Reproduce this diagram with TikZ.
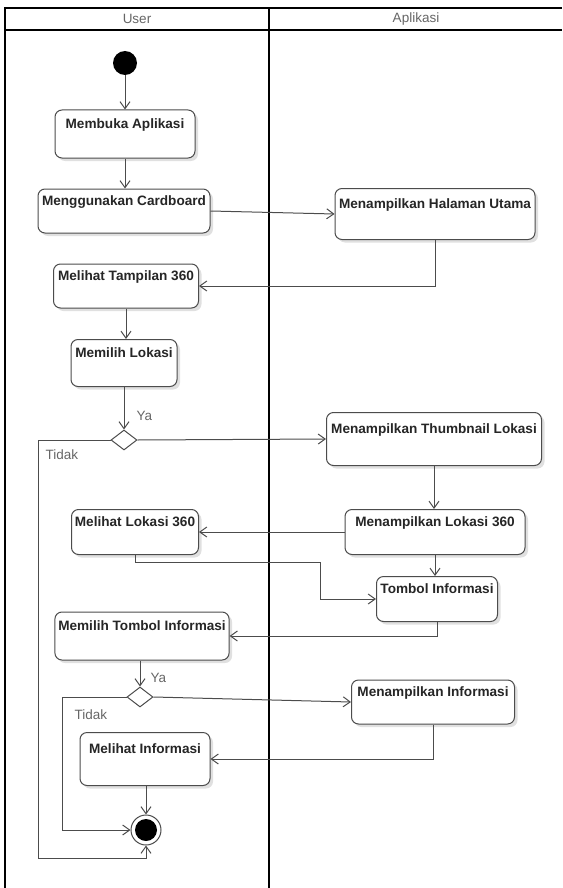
\documentclass[tikz,border=0pt]{standalone}
\usepackage{fontspec}
\setmainfont{Liberation Sans}
\usetikzlibrary{arrows.meta,shapes.geometric,shadows}
\tikzset{
  aksi/.style={draw=black!70, fill=white, rounded corners=7pt, line width=1pt, align=center,
    font=\fontsize{13.6}{15.5}\selectfont\bfseries, text=black!85,
    drop shadow={shadow xshift=3pt, shadow yshift=-3pt, opacity=0.12, fill=black}},
  putusan/.style={draw=black!70, fill=white, diamond, aspect=1.3, minimum width=26, minimum height=20, inner sep=0pt, line width=1pt},
  mulai/.style={circle, fill=black, minimum size=24, inner sep=0pt},
  akhir/.style={circle, draw=black!70, fill=white, line width=1pt, minimum size=30, inner sep=0pt,
    path picture={\fill[black] (path picture bounding box.center) circle (11pt);}},
  alur/.style={draw=black!70, line width=1pt, -{Straight Barb[length=7pt,width=10pt]}},
  ket/.style={text=black!60, font=\fontsize{13.5}{15}\selectfont},
}
\begin{document}
\begin{tikzpicture}[x=1pt, y=-1pt]
\useasboundingbox (0,0) rectangle (562,888);

% swimlane
\draw[line width=1.6pt] (5,888) -- (5,8) -- (562,8);
\draw[line width=1.6pt] (5,30) -- (562,30);
\draw[line width=1.6pt] (269,8) -- (269,888);
\node[ket] (user) at (137,19) {User};
\node[ket] (apl) at (416,19) {Aplikasi};

\node[mulai] (mulai) at (125,63) {};
\node[aksi, minimum width=140, minimum height=48] (buka) at (125,134) {Membuka Aplikasi\\ \strut};
\node[aksi, minimum width=172, minimum height=44] (cardboard) at (124,211) {Menggunakan Cardboard\\ \strut};
\node[aksi, minimum width=200, minimum height=51] (halaman) at (435,214) {Menampilkan Halaman Utama\\ \strut};
\node[aksi, minimum width=145, minimum height=44] (tampilan) at (126,286) {Melihat Tampilan 360\\ \strut};
\node[aksi, minimum width=106, minimum height=47] (lokasi) at (124,363) {Memilih Lokasi\\ \strut};
\node[putusan] (dec1) at (124,440) {};
\node[aksi, minimum width=215, minimum height=53] (thumb) at (434,439) {Menampilkan Thumbnail Lokasi\\ \strut};
\node[aksi, minimum width=180, minimum height=45] (lok360) at (435,532) {Menampilkan Lokasi 360\\ \strut};
\node[aksi, minimum width=127, minimum height=45] (mlok) at (135,532) {Melihat Lokasi 360\\ \strut};
\node[aksi, minimum width=121, minimum height=45] (tombol) at (437,599) {Tombol Informasi\\ \strut};
\node[aksi, minimum width=174, minimum height=48] (pilih) at (142,636) {Memilih Tombol Informasi\\ \strut};
\node[putusan] (dec2) at (140,697) {};
\node[aksi, minimum width=163, minimum height=44] (tinfo) at (433,702) {Menampilkan Informasi\\ \strut};
\node[aksi, minimum width=130, minimum height=53] (linfo) at (145,759) {Melihat Informasi\\ \strut};
\node[akhir] (akhir) at (146,830) {};

\node[ket, anchor=west] (ya1) at (133,416) {Ya};
\node[ket, anchor=west] (tidak1) at (42,455) {Tidak};
\node[ket, anchor=west] (ya2) at (147,678) {Ya};
\node[ket, anchor=west] (tidak2) at (71,715) {Tidak};

\coordinate (t1) at (38,858);
\coordinate (b1) at (320,562);
\coordinate (t2) at (62,830);

\draw[alur] (mulai) -- (mulai |- buka.north);
\draw[alur] (buka) -- (buka |- cardboard.north);
\draw[alur] (cardboard.east) -- (halaman.west);
\draw[alur] (halaman.south) |- (tampilan.east);
\draw[alur] (tampilan.south) -- (tampilan.south |- lokasi.north);
\draw[alur] (lokasi) -- (dec1.north);
\draw[alur] (dec1.east) -- (thumb.west);
\draw[alur] (dec1.west) -| (t1) -| (akhir.south);
\draw[alur] (thumb.south) -- (thumb.south |- lok360.north);
\draw[alur] (lok360.west) -- (mlok.east);
\draw[alur] (lok360.south) -- (lok360.south |- tombol.north);
\draw[alur] (mlok.south) |- (b1) |- (tombol.west);
\draw[alur] (tombol.south) |- (pilih.east);
\draw[alur] (pilih.south -| dec2) -- (dec2.north);
\draw[alur] (dec2.east) -- (tinfo.west);
\draw[alur] (dec2.west) -| (t2) -- (akhir.west);
\draw[alur] (tinfo.south) |- (linfo.east);
\draw[alur] (linfo.south -| akhir) -- (akhir.north);
\end{tikzpicture}
\end{document}
